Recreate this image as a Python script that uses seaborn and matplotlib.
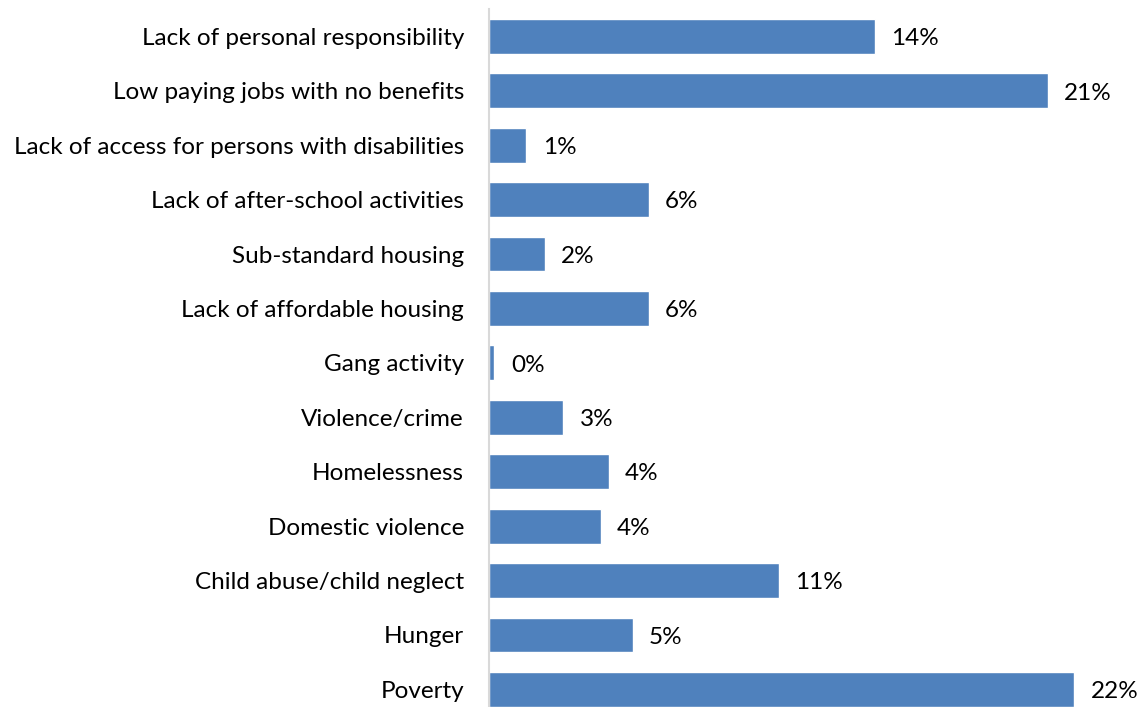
import matplotlib
matplotlib.use("Agg")
import pandas as pd
import seaborn as sns
import matplotlib.pyplot as plt

# survey data (share of responses)
issues = ["Lack of personal responsibility", "Low paying jobs with no benefits",
          "Lack of access for persons with disabilities", "Lack of after-school activities",
          "Sub-standard housing", "Lack of affordable housing", "Gang activity",
          "Violence/crime", "Homelessness", "Domestic violence",
          "Child abuse/child neglect", "Hunger", "Poverty"]
shares = [14.5, 21.0, 1.4, 6.0, 2.1, 6.0, 0.2, 2.8, 4.5, 4.2, 10.9, 5.4, 22.0]
labels = ["14%", "21%", "1%", "6%", "2%", "6%", "0%", "3%", "4%", "4%", "11%", "5%", "22%"]

df = pd.DataFrame({"Issue": issues, "Share": shares})

sns.set_style("white")
plt.rcParams["font.family"] = ["Lato", "DejaVu Sans"]

fig = plt.figure(figsize=(11.47, 7.07), dpi=100)
ax = fig.add_axes([489 / 1147, 0, 658 / 1147, 698 / 707])

sns.barplot(data=df, x="Share", y="Issue", orient="h", color="#4F81BD",
            saturation=1, width=0.64, ax=ax)

# data labels to the right of each bar
for i, (v, s) in enumerate(zip(shares, labels)):
    ax.text(v + 0.62, i + 0.04, s, va="center", ha="left", fontsize=17.5, color="black")

ax.set_xlim(0, 24.74)
ax.set_ylim(12.325, -0.505)
ax.set_xlabel("")
ax.set_ylabel("")
ax.set_xticks([])
ax.tick_params(axis="y", length=0, pad=18, labelsize=17.5, labelcolor="black")
for sp in ["top", "right", "bottom"]:
    ax.spines[sp].set_visible(False)
ax.spines["left"].set_color("#D9D9D9")
ax.spines["left"].set_linewidth(1.5)

fig.savefig("out.png", dpi=100)
